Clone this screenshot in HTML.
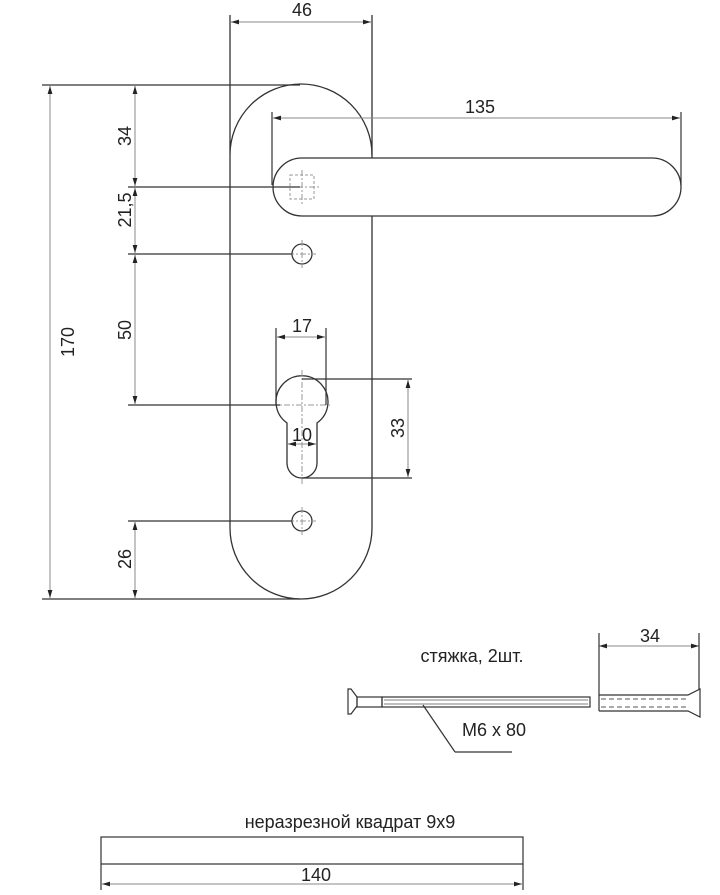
<!DOCTYPE html>
<html><head><meta charset="utf-8"><style>body{margin:0;background:#fff}svg{display:block}text{font-family:"Liberation Sans",sans-serif;font-size:18px;fill:#222}</style></head><body>
<svg width="720" height="895" viewBox="0 0 720 895" xmlns="http://www.w3.org/2000/svg">
<defs>
<marker id="a" viewBox="0 0 10 6" refX="10" refY="3" markerWidth="8" markerHeight="5" orient="auto-start-reverse"><path d="M0,0L10,3L0,6z" fill="#222"/></marker>
</defs>
<g fill="none" stroke="#333" stroke-width="1.3">
<path d="M230,15 V155 A71,71 0 0 1 372,155 M372,216 V528 A71,71 0 0 1 230,528 V155"/>
<line x1="372" y1="15" x2="372" y2="158"/>
<path d="M302,158 H652 A29,29 0 0 1 652,216 H302 A29,29 0 0 1 302,158 Z" fill="#fff"/>
<circle cx="302" cy="254" r="10"/>
<circle cx="302" cy="521" r="10"/>
<path d="M287,423 A26,26 0 1 1 317,423 V463 A15,15 0 0 1 287,463 Z"/>
</g>
<g fill="none" stroke="#999" stroke-width="1" stroke-dasharray="6,2,2,2">
<line x1="302" y1="170" x2="302" y2="205"/><line x1="285" y1="187" x2="320" y2="187"/>
<line x1="302" y1="240" x2="302" y2="268"/><line x1="288" y1="254" x2="316" y2="254"/>
<line x1="302" y1="507" x2="302" y2="535"/><line x1="288" y1="521" x2="316" y2="521"/>
<line x1="302" y1="370" x2="302" y2="484"/><line x1="272" y1="405" x2="332" y2="405"/>
<rect x="290" y="175" width="24" height="24" stroke-dasharray="3,2"/>
</g>
<g stroke="#333" stroke-width="1.2">
<line x1="42" y1="85" x2="300" y2="85"/><line x1="42" y1="599" x2="300" y2="599"/>
<line x1="128" y1="187" x2="300" y2="187"/><line x1="128" y1="254" x2="292" y2="254"/>
<line x1="128" y1="405" x2="280" y2="405"/><line x1="128" y1="521" x2="292" y2="521"/>
<line x1="272" y1="112" x2="272" y2="185"/><line x1="681" y1="112" x2="681" y2="185"/>
<line x1="276" y1="328" x2="276" y2="405"/><line x1="326" y1="328" x2="326" y2="405"/>
<line x1="302" y1="379" x2="412" y2="379"/><line x1="302" y1="478" x2="412" y2="478"/>
</g>
<g stroke="#888" stroke-width="1" marker-start="url(#a)" marker-end="url(#a)">
<line x1="231" y1="22" x2="371" y2="22"/>
<line x1="50" y1="86" x2="50" y2="598"/>
<line x1="135" y1="86" x2="135" y2="186"/>
<line x1="135" y1="188" x2="135" y2="253"/>
<line x1="135" y1="255" x2="135" y2="404"/>
<line x1="135" y1="522" x2="135" y2="598"/>
<line x1="273" y1="118" x2="680" y2="118"/>
<line x1="277" y1="337" x2="325" y2="337"/>
<line x1="408" y1="380" x2="408" y2="477"/>
<line x1="288" y1="444" x2="316" y2="444"/>
<line x1="599" y1="646" x2="699" y2="646"/>
<line x1="102" y1="884" x2="522" y2="884"/>
</g>
<text x="302" y="16" text-anchor="middle">46</text>
<text x="480" y="113" text-anchor="middle">135</text>
<text x="302" y="332" text-anchor="middle">17</text>
<text x="302" y="441" text-anchor="middle">10</text>
<text transform="translate(74,342) rotate(-90)" text-anchor="middle">170</text>
<text transform="translate(131,136) rotate(-90)" text-anchor="middle">34</text>
<text transform="translate(131,210) rotate(-90)" text-anchor="middle">21,5</text>
<text transform="translate(131,330) rotate(-90)" text-anchor="middle">50</text>
<text transform="translate(131,559) rotate(-90)" text-anchor="middle">26</text>
<text transform="translate(404,428) rotate(-90)" text-anchor="middle">33</text>
<text x="472" y="662" text-anchor="middle">стяжка, 2шт.</text>
<text x="650" y="642" text-anchor="middle">34</text>
<text x="494" y="736" text-anchor="middle">M6 x 80</text>
<text x="350" y="828" text-anchor="middle">неразрезной квадрат 9x9</text>
<text x="316" y="881" text-anchor="middle">140</text>
<g fill="none" stroke="#333" stroke-width="1.2">
<path d="M348,689 L351,689 L357,697 V706 L351,714 L348,714 Z"/>
<rect x="357" y="697" width="25" height="10"/>
<rect x="382" y="697" width="208" height="10"/>
<line x1="384" y1="700" x2="588" y2="700" stroke="#999"/>
<line x1="384" y1="704" x2="588" y2="704" stroke="#999"/>
<path d="M599,633 V711 M699,633 V689 M599,695 H688 L700,689 V717 L688,711 H599"/>
<line x1="601" y1="699" x2="686" y2="699" stroke="#777" stroke-dasharray="5,3"/>
<line x1="601" y1="707" x2="686" y2="707" stroke="#777" stroke-dasharray="5,3"/>
<line x1="423" y1="705" x2="455" y2="752"/><line x1="455" y1="752" x2="512" y2="752"/>
<rect x="101" y="837" width="422" height="27"/>
<line x1="101" y1="864" x2="101" y2="890"/><line x1="523" y1="864" x2="523" y2="890"/>
</g>
</svg>
</body></html>
